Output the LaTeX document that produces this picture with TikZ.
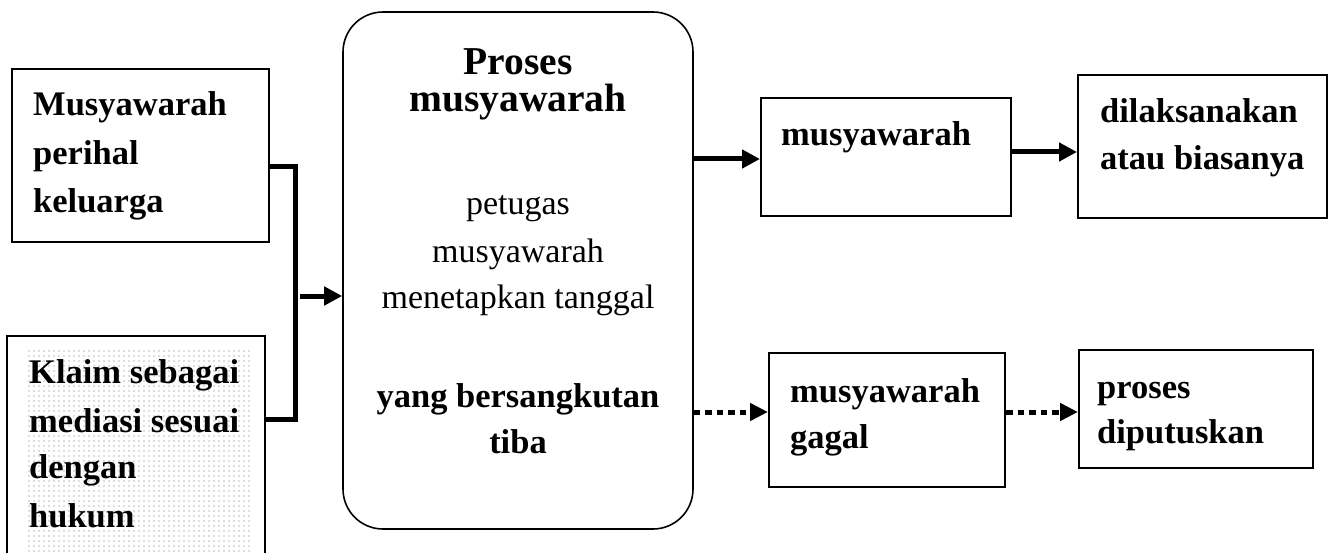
\documentclass[tikz,border=0pt]{standalone}
\usepackage{fontspec}
\setmainfont{Liberation Serif}
\usetikzlibrary{arrows.meta,patterns.meta}

\tikzdeclarepattern{
  name=finedots,
  type=uncolored,
  bottom left={(0pt,0pt)},
  top right={(4.5pt,4.5pt)},
  tile size={(4.5pt,4.5pt)},
  code={\fill (2.25pt,2.25pt) circle (0.75pt);}
}

\tikzset{
  box/.style={draw, line width=2pt, inner sep=0pt, fill=none},
  roundbox/.style={draw, line width=1.6pt, inner sep=0pt, rounded corners=40pt},
  boldtxt/.style={inner sep=0pt, font=\fontsize{34.5}{40}\selectfont\bfseries},
  titletxt/.style={inner sep=0pt, font=\fontsize{39.5}{44}\selectfont\bfseries, anchor=base},
  regtxt/.style={inner sep=0pt, font=\fontsize{34}{40}\selectfont, anchor=base},
  joinline/.style={line width=5pt, miter limit=10},
  arr/.style={line width=5pt, -{Triangle[length=18pt,width=18pt]}},
  dotarr/.style={line width=5pt, dash pattern=on 6.5pt off 5pt, -{Triangle[length=18pt,width=17pt]}}
}

\begin{document}
\begin{tikzpicture}[x=1pt,y=-1pt]
\fill[white] (0,0) rectangle (1335,553);
\clip (0,0) rectangle (1335,553);

% left boxes
\node[box, minimum width=257pt, minimum height=173pt] (b1) at (140.5,155.5) {};
\fill[pattern=finedots, pattern color=black!55] (25,350) rectangle (250,560);
\node[box, minimum width=258pt, minimum height=264pt] (b2) at (136,468) {};

\node[boldtxt, anchor=base west] (t11) at (33,116) {Musyawarah};
\node[boldtxt, anchor=base west] (t12) at (33,165) {perihal};
\node[boldtxt, anchor=base west] (t13) at (33,213) {keluarga};

\node[boldtxt, anchor=base west] (t21) at (29,383) {Klaim sebagai};
\node[boldtxt, anchor=base west] (t22) at (29,432) {mediasi sesuai};
\node[boldtxt, anchor=base west] (t23) at (29,478) {dengan};
\node[boldtxt, anchor=base west] (t24) at (29,527) {hukum};

% central rounded box
\node[roundbox, minimum width=350pt, minimum height=517pt] (c) at (518,270.5) {};
\node[titletxt] (ct1) at (518,75) {Proses};
\node[titletxt] (ct2) at (518,112) {musyawarah};
\node[regtxt] (cr1) at (518,215) {petugas};
\node[regtxt] (cr2) at (518,262) {musyawarah};
\node[regtxt] (cr3) at (518,308) {menetapkan tanggal};
\node[boldtxt, anchor=base] (cb1) at (518,407) {yang bersangkutan};
\node[boldtxt, anchor=base] (cb2) at (518,453) {tiba};

% right boxes
\node[box, minimum width=250pt, minimum height=118pt] (r1) at (886,157) {};
\node[box, minimum width=249pt, minimum height=143pt] (r2) at (1202.5,146.5) {};
\node[box, minimum width=236pt, minimum height=134pt] (r3) at (887,420) {};
\node[box, minimum width=234pt, minimum height=118pt] (r4) at (1196,409) {};

\node[boldtxt, anchor=base west] (r1t) at (781,146) {musyawarah};
\node[boldtxt, anchor=base west] (r2t1) at (1100,123) {dilaksanakan};
\node[boldtxt, anchor=base west] (r2t2) at (1100,170) {atau biasanya};
\node[boldtxt, anchor=base west] (r3t1) at (790,402) {musyawarah};
\node[boldtxt, anchor=base west] (r3t2) at (790,448) {gagal};
\node[boldtxt, anchor=base west] (r4t1) at (1097,398) {proses};
\node[boldtxt, anchor=base west] (r4t2) at (1097,443) {diputuskan};

% connectors
\coordinate (j1) at (295,167);
\coordinate (j2) at (295,419);
\coordinate (j3) at (300,296);
\coordinate (a1) at (692,159);
\coordinate (a2) at (1014,152);
\coordinate (a3) at (695,412);
\coordinate (a4) at (1006,412);

\draw[joinline] (b1.east |- j1) -- (j1) -- (j2) -- (b2.east |- j2);
\draw[arr] (j3) -- (c.west |- j3);
\draw[arr] (c.east |- a1) -- (r1.west |- a1);
\draw[arr] (r1.east |- a2) -- (r2.west |- a2);
\draw[dotarr] (c.east |- a3) -- (r3.west |- a3);
\draw[dotarr] (r3.east |- a4) -- (r4.west |- a4);
\end{tikzpicture}
\end{document}
